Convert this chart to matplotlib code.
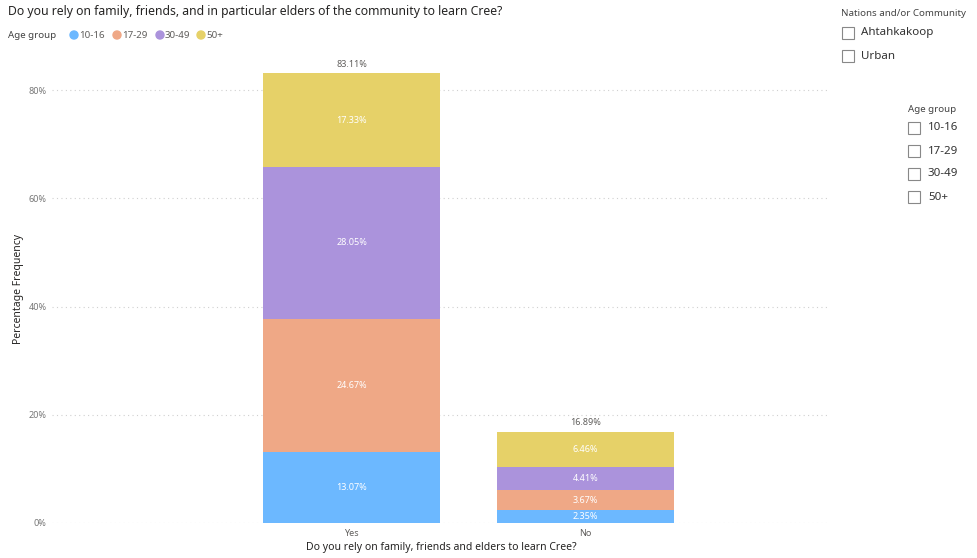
import matplotlib
matplotlib.use("Agg")
import matplotlib.pyplot as plt
from matplotlib.patches import Rectangle, Ellipse
import numpy as np

plt.rcParams['font.family'] = ['Noto Sans', 'DejaVu Sans']

categories = ["Yes", "No"]
age_groups = ["10-16", "17-29", "30-49", "50+"]
values = {
    "10-16": [13.07, 2.35],
    "17-29": [24.67, 3.67],
    "30-49": [28.05, 4.41],
    "50+": [17.33, 6.46],
}
totals = [83.11, 16.89]
yticks = [0, 20, 40, 60, 80]
colors = ["#6CB8FF", "#EFA886", "#AB93DC", "#E6D168"]
nations = ["Ahtahkakoop", "Urban"]

W, H = 978, 558
fig = plt.figure(figsize=(W / 100, H / 100), dpi=100)
ax = fig.add_axes([52 / W, 1 - 523 / H, (830 - 52) / W, (523 - 55) / H])

x = np.arange(len(categories))
bottom = np.zeros(len(categories))
for g, c in zip(age_groups, colors):
    v = np.array(values[g])
    ax.bar(x, v, bottom=bottom, width=0.756, color=c, edgecolor="none", zorder=2)
    for xi, vi, bi in zip(x, v, bottom):
        ax.text(xi, bi + vi / 2, f"{vi:.2f}%", ha="center", va="center",
                color="white", fontsize=6.5, zorder=3)
    bottom += v

for xi, t in zip(x, totals):
    ax.text(xi, t + 0.8, f"{t:.2f}%", ha="center", va="bottom", color="#605E5C", fontsize=6.5)

ax.set_xlim(-1.28, 2.045)
ax.set_ylim(0, 86.5)
ax.set_yticks(yticks)
ax.set_yticklabels([f"{t}%" for t in yticks], color="#777777", fontsize=6.5)
ax.set_xticks(x)
ax.set_xticklabels(categories, color="#605E5C", fontsize=6.5)
ax.tick_params(length=0, pad=4)
ax.grid(axis="y", color="#D0D0D0", linestyle=(0, (1, 3)), linewidth=0.8, zorder=0)
for s in ax.spines.values():
    s.set_visible(False)
ax.set_ylabel("Percentage Frequency", fontsize=7.5, color="#252423", labelpad=3)
ax.set_xlabel("Do you rely on family, friends and elders to learn Cree?", fontsize=7.5,
              color="#252423", labelpad=3)

# Title
fig.text(8 / W, 1 - 12 / H, "Do you rely on family, friends, and in particular elders of the community to learn Cree?",
         fontsize=8.8, color="#252423", va="center", ha="left")

# Legend
fig.text(8 / W, 1 - 35 / H, "Age group", fontsize=7, fontweight="bold", color="#444444", va="center")
lx = [74, 117, 160, 201]
for xp, g, c in zip(lx, age_groups, colors):
    fig.patches.append(Ellipse((xp / W, 1 - 35 / H), 8 / W, 8 / H, transform=fig.transFigure,
                               color=c))
    fig.text((xp + 5) / W, 1 - 35 / H, g, fontsize=7, color="#605E5C", va="center")

# Slicers
def checkbox(px, py):
    fig.patches.append(Rectangle((px / W, 1 - (py + 6) / H), 12 / W, 12 / H,
                                 transform=fig.transFigure, fill=False,
                                 edgecolor="#888888", linewidth=0.8))

fig.text(841 / W, 1 - 14 / H, "Nations and/or Community", fontsize=7, color="#444444", va="center")
for i, n in enumerate(nations):
    py = 33 + i * 23
    checkbox(842, py)
    fig.text(861 / W, 1 - py / H, n, fontsize=8.3, color="#333333", va="center")

fig.text(908 / W, 1 - 109 / H, "Age group", fontsize=7, color="#444444", va="center")
for i, g in enumerate(age_groups):
    py = 128 + i * 23
    checkbox(908, py)
    fig.text(928 / W, 1 - py / H, g, fontsize=8.3, color="#333333", va="center")

fig.savefig("out.png", dpi=100)
